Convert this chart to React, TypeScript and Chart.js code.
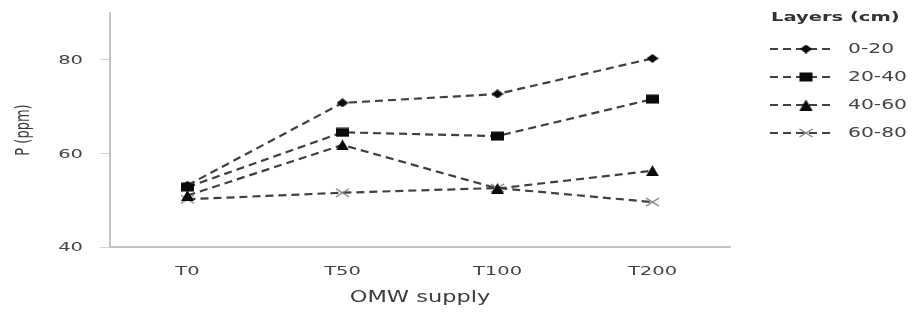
import React, { useEffect, useRef } from "react";
import { Chart, registerables } from "chart.js";
Chart.register(...registerables);

const categories = ["T0", "T50", "T100", "T200"];
const layerLabels = ["0-20", "20-40", "40-60", "60-80"];
const s0_20 = [53.2, 70.8, 72.7, 80.3];
const s20_40 = [52.8, 64.5, 63.7, 71.6];
const s40_60 = [51.0, 61.8, 52.5, 56.3];
const s60_80 = [50.2, 51.6, 52.6, 49.6];
const yTicks = [40, 60, 80];
const legendTitle = "Layers (cm)";
const xTitle = "OMW supply";
const yTitle = "P (ppm)";

const FONT = "'DejaVu Sans', Verdana, sans-serif";
const LINE = "#404040";
const TEXT = "#444444";
const SX = 1.5; // horizontal stretch of the reference text

function drawText(ctx: CanvasRenderingContext2D, text: string, x: number, y: number,
  font: string, align: CanvasTextAlign, color: string, sx = SX, sy = 1, rotate = false) {
  ctx.save();
  ctx.translate(x, y);
  if (rotate) ctx.rotate(-Math.PI / 2);
  ctx.scale(sx, sy);
  ctx.font = font;
  ctx.fillStyle = color;
  ctx.textAlign = align;
  ctx.textBaseline = "middle";
  ctx.fillText(text, 0, 0);
  ctx.restore();
}

function makeMarker(kind: string): HTMLCanvasElement {
  const c = document.createElement("canvas");
  const dims: Record<string, [number, number]> = {
    diamond: [12, 9], square: [15, 10], triangle: [15, 11], cross: [15, 10],
  };
  const [w, h] = dims[kind];
  c.width = w; c.height = h;
  const g = c.getContext("2d")!;
  g.fillStyle = "#0a0a0a";
  g.strokeStyle = "#0a0a0a";
  g.beginPath();
  if (kind === "diamond") {
    g.moveTo(w / 2, 0); g.lineTo(w, h / 2); g.lineTo(w / 2, h); g.lineTo(0, h / 2); g.closePath(); g.fill();
  } else if (kind === "square") {
    g.fillRect(1, 0.5, w - 2, h - 1);
  } else if (kind === "triangle") {
    g.moveTo(w / 2, 0); g.lineTo(w - 1, h); g.lineTo(1, h); g.closePath(); g.fill();
  } else {
    g.strokeStyle = "#777";
    g.lineWidth = 1.3;
    g.moveTo(1, 1); g.lineTo(w - 1, h - 1); g.moveTo(w - 1, 1); g.lineTo(1, h - 1); g.stroke();
  }
  return c;
}

const textPlugin = {
  id: "textAndLegend",
  afterDraw(chart: any) {
    const ctx: CanvasRenderingContext2D = chart.ctx;
    const xs = chart.scales.x;
    const ys = chart.scales.y;
    yTicks.forEach((v) => {
      drawText(ctx, String(v), 83, ys.getPixelForValue(v) + 1, `13px ${FONT}`, "right", TEXT);
    });
    categories.forEach((c, i) => {
      drawText(ctx, c, xs.getPixelForTick(i), 272, `13px ${FONT}`, "center", TEXT);
    });
    drawText(ctx, xTitle, (chart.chartArea.left + chart.chartArea.right) / 2, 298, `15px ${FONT}`, "center", "#3c3c3c");
    drawText(ctx, yTitle, 24, 130, `13px ${FONT}`, "center", "#3c3c3c", 1, 1.45, true);
    drawText(ctx, legendTitle, 771, 18, `bold 13px ${FONT}`, "left", "#333", 1.5);
    const rows = [49, 77, 105, 133];
    chart.data.datasets.forEach((ds: any, i: number) => {
      const y = rows[i];
      ctx.save();
      ctx.strokeStyle = LINE;
      ctx.lineWidth = 2;
      ctx.setLineDash([8, 5]);
      ctx.beginPath();
      ctx.moveTo(770, y);
      ctx.lineTo(830, y);
      ctx.stroke();
      ctx.restore();
      const img: HTMLCanvasElement = ds.pointStyle;
      ctx.drawImage(img, 806 - img.width / 2, y - img.height / 2);
      drawText(ctx, ds.label, 848, y, `14px ${FONT}`, "left", TEXT, 1.45);
    });
  },
};

export default function App() {
  const ref = useRef<HTMLCanvasElement>(null);
  useEffect(() => {
    if (!ref.current) return;
    const mk = (label: string, data: number[], marker: HTMLCanvasElement) => ({
      label,
      data,
      borderColor: LINE,
      borderWidth: 2.2,
      borderDash: [8, 5],
      pointStyle: marker,
      pointRadius: 6,
      fill: false,
      tension: 0,
    });
    const chart = new Chart(ref.current, {
      type: "line",
      data: {
        labels: categories,
        datasets: [
          mk(layerLabels[0], s0_20, makeMarker("diamond")),
          mk(layerLabels[1], s20_40, makeMarker("square")),
          mk(layerLabels[2], s40_60, makeMarker("triangle")),
          mk(layerLabels[3], s60_80, makeMarker("cross")),
        ] as any,
      },
      options: {
        animation: false,
        responsive: false,
        layout: { padding: { top: 13, right: 187, left: 0, bottom: 0 } },
        plugins: { legend: { display: false }, tooltip: { enabled: false } },
        scales: {
          x: {
            offset: true,
            grid: { display: false },
            border: { color: "#c4c4c4", width: 2 },
            ticks: { display: false },
            afterFit: (s: any) => { s.height = 66; s.paddingLeft = 0; s.paddingRight = 0; },
          },
          y: {
            min: 40,
            max: 90,
            grid: { drawOnChartArea: false, tickLength: 10, color: "#d4d4d4" },
            border: { color: "#c4c4c4", width: 2 },
            ticks: { display: false, stepSize: 20 },
            afterBuildTicks: (s: any) => { s.ticks = yTicks.map((v) => ({ value: v })); },
            afterFit: (s: any) => { s.width = 110; s.paddingTop = 0; s.paddingBottom = 0; },
          },
        },
      },
      plugins: [textPlugin],
    });
    return () => chart.destroy();
  }, []);
  return (
    <div style={{ position: "fixed", left: 0, top: 0, width: 917, height: 313, background: "#fff" }}>
      <canvas ref={ref} width={917} height={313} style={{ width: 917, height: 313 }} />
    </div>
  );
}
